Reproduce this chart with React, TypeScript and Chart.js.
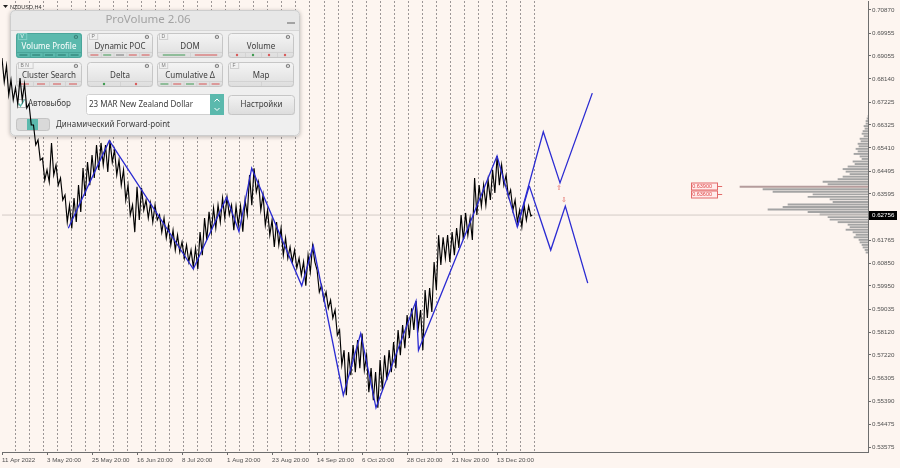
import React, { useEffect, useRef } from 'react';
import { Chart, registerables } from 'chart.js';

Chart.register(...registerables);

// ---------- DATA ----------
const symbolLabel = 'NZDUSD,H4';

// x axis: H4 bar index from 11 Apr 2022
const xMaxBars = 1924;
const xLabelBars = [0, 100, 200, 300, 400, 500, 600, 700, 800, 900, 1000, 1100];
const xLabelTexts = [
  '11 Apr 2022', '3 May 20:00', '25 May 20:00', '16 Jun 20:00', '8 Jul 20:00', '1 Aug 20:00',
  '23 Aug 20:00', '14 Sep 20:00', '6 Oct 20:00', '28 Oct 20:00', '21 Nov 20:00', '13 Dec 20:00',
];
const weekGridStart = 29;
const weekGridStep = 31.2;
const weekGridCount = 38;

// y axis
const yMin = 0.5338;
const yMax = 0.71226;
const yTickValues = [
  0.7087, 0.69955, 0.69055, 0.6814, 0.67225, 0.66325, 0.6541, 0.64495, 0.63595,
  0.61765, 0.6085, 0.5995, 0.59035, 0.5812, 0.5722, 0.56305, 0.5539, 0.54475, 0.53575,
];
const lastPrice = 0.62756;

// price (sampled every 10 H4 bars): highs and lows
const sampleBars = 10;
const priceHigh = [
  0.6897, 0.6866, 0.6810, 0.6779, 0.6818, 0.6794, 0.6715, 0.6632, 0.6573, 0.6501,
  0.6454, 0.6561, 0.6474, 0.6422, 0.6355, 0.6315, 0.6343, 0.6394, 0.6462, 0.6485,
  0.6513, 0.6553, 0.6561, 0.6553, 0.6570, 0.6533, 0.6493, 0.6454, 0.6394, 0.6315,
  0.6387, 0.6383, 0.6335, 0.6323, 0.6315, 0.6276, 0.6264, 0.6236, 0.6216, 0.6196,
  0.6169, 0.6157, 0.6137, 0.6145, 0.6208, 0.6264, 0.6288, 0.6303, 0.6315, 0.6343,
  0.6346, 0.6315, 0.6311, 0.6311, 0.6335, 0.6434, 0.6461, 0.6406, 0.6355, 0.6295,
  0.6256, 0.6248, 0.6224, 0.6185, 0.6149, 0.6137, 0.6105, 0.6090, 0.6117, 0.6154,
  0.6058, 0.5998, 0.5971, 0.5939, 0.5900, 0.5821, 0.5741, 0.5733, 0.5761, 0.5781,
  0.5807, 0.5721, 0.5670, 0.5654, 0.5702, 0.5721, 0.5741, 0.5773, 0.5821, 0.5840,
  0.5880, 0.5907, 0.5935, 0.5900, 0.5979, 0.5987, 0.6090, 0.6196, 0.6188, 0.6196,
  0.6208, 0.6224, 0.6276, 0.6284, 0.6264, 0.6422, 0.6394, 0.6394, 0.6414, 0.6454,
  0.6509, 0.6474, 0.6434, 0.6375, 0.6335, 0.6295, 0.6315, 0.6311,
];
const priceLow = [
  0.6802, 0.6751, 0.6731, 0.6715, 0.6731, 0.6699, 0.6632, 0.6553, 0.6493, 0.6414,
  0.6406, 0.6434, 0.6394, 0.6335, 0.6248, 0.6223, 0.6248, 0.6288, 0.6351, 0.6394,
  0.6422, 0.6454, 0.6474, 0.6446, 0.6485, 0.6434, 0.6394, 0.6335, 0.6276, 0.6208,
  0.6256, 0.6295, 0.6264, 0.6248, 0.6256, 0.6208, 0.6185, 0.6157, 0.6137, 0.6129,
  0.6105, 0.6090, 0.6070, 0.6062, 0.6117, 0.6177, 0.6208, 0.6224, 0.6248, 0.6264,
  0.6276, 0.6216, 0.6236, 0.6210, 0.6276, 0.6315, 0.6367, 0.6295, 0.6236, 0.6196,
  0.6149, 0.6157, 0.6117, 0.6105, 0.6090, 0.6066, 0.6038, 0.5996, 0.6050, 0.6090,
  0.5971, 0.5939, 0.5907, 0.5868, 0.5800, 0.5682, 0.5563, 0.5642, 0.5654, 0.5670,
  0.5662, 0.5575, 0.5543, 0.5513, 0.5583, 0.5622, 0.5654, 0.5670, 0.5721, 0.5749,
  0.5789, 0.5821, 0.5829, 0.5741, 0.5868, 0.5892, 0.5979, 0.6078, 0.6105, 0.6090,
  0.6117, 0.6145, 0.6177, 0.6196, 0.6177, 0.6276, 0.6311, 0.6315, 0.6335, 0.6363,
  0.6394, 0.6394, 0.6347, 0.6295, 0.6248, 0.6229, 0.6256, 0.6272,
];

// ZigZag vertices
const zigzagBars = [147.3, 238.4, 425.0, 499.2, 526.5, 554.8, 665.9, 691.6, 758.3, 796.9, 830.9, 919.8, 925.3, 1099.8, 1144.9, 1171.5];
const zigzagPrices = [0.6223, 0.6570, 0.6062, 0.6346, 0.6210, 0.6461, 0.5996, 0.6154, 0.5563, 0.5807, 0.5513, 0.5935, 0.5741, 0.6509, 0.6229, 0.6391];

// forward-point projections
const forecastDownBars = [1171.5, 1219.1, 1251.5, 1301.3];
const forecastDownPrices = [0.6391, 0.6137, 0.6311, 0.6006];
const forecastUpBars = [1144.9, 1202.6, 1239.7, 1311.5];
const forecastUpPrices = [0.6229, 0.6605, 0.6403, 0.6758];

// small red arrows
const arrowBars = [1237.5, 1248.6];
const arrowPrices = [0.6383, 0.6335];
const arrowGlyphs = ['⇧', '⇩'];

// red price labels
const priceLabelValues = [0.639, 0.636];
const priceLabelBar = 1600;

// volume profile
const profileLevels = [
  0.667, 0.666, 0.665, 0.664, 0.663, 0.662, 0.661, 0.660, 0.659, 0.658,
  0.657, 0.656, 0.655, 0.654, 0.653, 0.652, 0.651, 0.650, 0.649, 0.648,
  0.647, 0.646, 0.645, 0.644, 0.643, 0.642, 0.641, 0.640, 0.639, 0.638,
  0.637, 0.636, 0.635, 0.634, 0.633, 0.632, 0.631, 0.630, 0.629, 0.628,
  0.627, 0.626, 0.625, 0.624, 0.623, 0.622, 0.621, 0.620, 0.619, 0.618,
  0.617, 0.616, 0.615, 0.614, 0.613,
];
const profileVolumes = [
  0, 1, 2, 2, 4, 3, 5, 6, 4, 8,
  7, 10, 9, 12, 10, 14, 8, 6, 15, 13,
  20, 25, 22, 18, 25, 30, 45, 40, 128, 105,
  95, 55, 60, 38, 35, 80, 85, 100, 60, 48,
  40, 38, 30, 20, 18, 22, 15, 12, 14, 9,
  8, 6, 5, 3, 2,
];
const profilePocLevel = 0.639;
const profileAxisMax = 866;

// ---------- STYLE ----------
const BG = '#fdf5f0';
const AXIS_FONT = 'Liberation Sans';
const UI_FONT = 'Noto Sans';
const TEAL = '#5bb9ad';

function rr(ctx: CanvasRenderingContext2D, x: number, y: number, w: number, h: number, r: number) {
  ctx.beginPath();
  ctx.moveTo(x + r, y);
  ctx.lineTo(x + w - r, y);
  ctx.quadraticCurveTo(x + w, y, x + w, y + r);
  ctx.lineTo(x + w, y + h - r);
  ctx.quadraticCurveTo(x + w, y + h, x + w - r, y + h);
  ctx.lineTo(x + r, y + h);
  ctx.quadraticCurveTo(x, y + h, x, y + h - r);
  ctx.lineTo(x, y + r);
  ctx.quadraticCurveTo(x, y, x + r, y);
  ctx.closePath();
}

type Strip = { kind: 'dash' | 'dot' | 'long'; colors: string[] };
type Btn = { tag: string; text: string; active?: boolean; gear: boolean; strip: Strip | null };

const panelButtons: Btn[] = [
  { tag: 'V', text: 'Volume Profile', active: true, gear: true, strip: { kind: 'dash', colors: ['#2f8076', '#2f8076', '#2f8076', '#2f8076', '#2f8076'] } },
  { tag: 'P', text: 'Dynamic POC', gear: true, strip: { kind: 'dash', colors: ['#d86a6a', '#5aa56a', '#8a8a8a', '#d86a6a', '#d86a6a'] } },
  { tag: 'D', text: 'DOM', gear: true, strip: { kind: 'long', colors: ['#5aa56a', '#d86a6a'] } },
  { tag: '', text: 'Volume', gear: true, strip: { kind: 'dot', colors: ['#d85a5a', '#3f9a4f', '#d85a5a', '#d85a5a'] } },
  { tag: 'B N', text: 'Cluster Search', gear: true, strip: { kind: 'dash', colors: ['#d86a6a', '#d86a6a', '#d86a6a', '#d86a6a'] } },
  { tag: '', text: 'Delta', gear: true, strip: { kind: 'dot', colors: ['#3f9a4f', '#d85a5a'] } },
  { tag: 'M', text: 'Cumulative Δ', gear: true, strip: { kind: 'dash', colors: ['#5aa56a', '#d86a6a', '#5aa56a', '#d86a6a', '#d86a6a'] } },
  { tag: 'F', text: 'Map', gear: true, strip: null },
];

function drawButton(ctx: CanvasRenderingContext2D, x: number, y: number, w: number, h: number, b: Btn) {
  ctx.save();
  if (b.active) {
    ctx.fillStyle = TEAL;
  } else {
    const g = ctx.createLinearGradient(0, y, 0, y + h);
    g.addColorStop(0, '#f5f5f5');
    g.addColorStop(1, '#dddddd');
    ctx.fillStyle = g;
  }
  rr(ctx, x, y, w, h, 3);
  ctx.fill();
  ctx.strokeStyle = b.active ? '#4aa59a' : '#c6c6c6';
  ctx.lineWidth = 1;
  rr(ctx, x + 0.5, y + 0.5, w - 1, h - 1, 3);
  ctx.stroke();
  if (b.tag) {
    ctx.strokeStyle = b.active ? '#7fcfc5' : '#cfcfcf';
    const tw = b.tag.length * 3.2 + 5;
    ctx.strokeRect(x + 2.5, y + 0.5, tw, 6);
    ctx.fillStyle = b.active ? '#e8f7f5' : '#7a7a7a';
    ctx.font = `5px ${AXIS_FONT}`;
    ctx.textBaseline = 'middle';
    ctx.textAlign = 'left';
    ctx.fillText(b.tag, x + 4.5, y + 4);
  }
  if (b.gear) {
    ctx.fillStyle = b.active ? '#2f6f68' : '#5a5a5a';
    ctx.font = `6px "DejaVu Sans"`;
    ctx.textAlign = 'center';
    ctx.textBaseline = 'middle';
    ctx.fillText('⚙', x + w - 6, y + 4);
  }
  ctx.fillStyle = b.active ? '#ffffff' : '#3c3c3c';
  ctx.font = `8px "${UI_FONT}"`;
  ctx.textAlign = 'center';
  ctx.textBaseline = 'middle';
  ctx.fillText(b.text, x + w / 2, y + 13.5);
  const sy = y + h - 6;
  ctx.strokeStyle = b.active ? '#4aa59a' : '#d3d3d3';
  ctx.beginPath();
  ctx.moveTo(x + 1, sy + 0.5);
  ctx.lineTo(x + w - 1, sy + 0.5);
  ctx.stroke();
  const n = b.strip ? b.strip.colors.length : 2;
  const segW = (w - 2) / n;
  for (let i = 1; i < n; i++) {
    ctx.beginPath();
    ctx.moveTo(x + 1 + segW * i + 0.5, sy);
    ctx.lineTo(x + 1 + segW * i + 0.5, y + h - 1);
    ctx.stroke();
  }
  if (b.strip) {
    b.strip.colors.forEach((c, i) => {
      const cx = x + 1 + segW * (i + 0.5);
      const cy = sy + 3;
      if (b.strip!.kind === 'dot') {
        ctx.fillStyle = c;
        ctx.beginPath();
        ctx.arc(cx, cy, 1.2, 0, Math.PI * 2);
        ctx.fill();
      } else {
        ctx.strokeStyle = c;
        ctx.lineWidth = 1.2;
        const half = b.strip!.kind === 'long' ? segW * 0.35 : Math.min(4, segW * 0.35);
        ctx.beginPath();
        ctx.moveTo(cx - half, cy);
        ctx.lineTo(cx + half, cy);
        ctx.stroke();
        ctx.lineWidth = 1;
      }
    });
  }
  ctx.restore();
}

function drawPanel(ctx: CanvasRenderingContext2D) {
  const px = 10, py = 10, pw = 290, ph = 126;
  ctx.save();
  ctx.shadowColor = 'rgba(0,0,0,0.28)';
  ctx.shadowBlur = 4;
  ctx.shadowOffsetY = 1;
  rr(ctx, px, py, pw, ph, 5);
  ctx.fillStyle = '#efefef';
  ctx.fill();
  ctx.restore();

  ctx.save();
  rr(ctx, px, py, pw, ph, 5);
  ctx.clip();
  ctx.fillStyle = '#e7e7e7';
  ctx.fillRect(px, py, pw, 20);
  ctx.strokeStyle = '#d6d6d6';
  ctx.beginPath();
  ctx.moveTo(px, py + 20.5);
  ctx.lineTo(px + pw, py + 20.5);
  ctx.stroke();
  ctx.restore();

  ctx.save();
  ctx.strokeStyle = '#cdcdcd';
  rr(ctx, px + 0.5, py + 0.5, pw - 1, ph - 1, 5);
  ctx.stroke();

  ctx.fillStyle = '#a3a3a3';
  ctx.font = `11.5px "${UI_FONT}"`;
  ctx.textAlign = 'center';
  ctx.textBaseline = 'middle';
  ctx.fillText('ProVolume 2.06', 148, 19.5);
  ctx.strokeStyle = '#8c8c8c';
  ctx.lineWidth = 1.5;
  ctx.beginPath();
  ctx.moveTo(287, 23);
  ctx.lineTo(295, 23);
  ctx.stroke();
  ctx.lineWidth = 1;

  const cols = [16, 87, 157, 228];
  const rows = [33, 62];
  panelButtons.forEach((b, i) => {
    drawButton(ctx, cols[i % 4], rows[Math.floor(i / 4)], 66, 25, b);
  });

  ctx.fillStyle = '#ffffff';
  ctx.fillRect(17, 99, 8, 8);
  ctx.strokeStyle = '#b8b8b8';
  ctx.strokeRect(17.5, 99.5, 8, 8);
  ctx.strokeStyle = TEAL;
  ctx.lineWidth = 1.4;
  ctx.beginPath();
  ctx.moveTo(18.5, 103.5);
  ctx.lineTo(20.5, 106);
  ctx.lineTo(24.5, 99.5);
  ctx.stroke();
  ctx.lineWidth = 1;
  ctx.fillStyle = '#3c3c3c';
  ctx.font = `8px "${UI_FONT}"`;
  ctx.textAlign = 'left';
  ctx.fillText('Автовыбор', 28, 104);

  ctx.fillStyle = '#ffffff';
  rr(ctx, 86, 94, 138, 21, 2);
  ctx.fill();
  ctx.strokeStyle = '#d0d0d0';
  rr(ctx, 86.5, 94.5, 137, 20, 2);
  ctx.stroke();
  ctx.fillStyle = '#3c3c3c';
  ctx.fillText('23 MAR New Zealand Dollar', 89, 105);
  ctx.fillStyle = TEAL;
  ctx.fillRect(210, 94, 14, 21);
  ctx.strokeStyle = '#ffffff';
  ctx.lineWidth = 1;
  ctx.beginPath();
  ctx.moveTo(214.5, 101.5); ctx.lineTo(217, 99); ctx.lineTo(219.5, 101.5);
  ctx.moveTo(214.5, 108); ctx.lineTo(217, 110.5); ctx.lineTo(219.5, 108);
  ctx.stroke();

  const g = ctx.createLinearGradient(0, 95, 0, 115);
  g.addColorStop(0, '#f3f3f3');
  g.addColorStop(1, '#dcdcdc');
  ctx.fillStyle = g;
  rr(ctx, 228, 95, 67, 20, 3);
  ctx.fill();
  ctx.strokeStyle = '#c6c6c6';
  rr(ctx, 228.5, 95.5, 66, 19, 3);
  ctx.stroke();
  ctx.fillStyle = '#3c3c3c';
  ctx.textAlign = 'center';
  ctx.fillText('Настройки', 261.5, 105);

  ctx.fillStyle = '#d9d9d9';
  rr(ctx, 16, 118, 34, 13, 3);
  ctx.fill();
  ctx.strokeStyle = '#c4c4c4';
  rr(ctx, 16.5, 118.5, 33, 12, 3);
  ctx.stroke();
  ctx.fillStyle = TEAL;
  ctx.fillRect(27, 119, 11, 11);
  ctx.fillStyle = '#3c3c3c';
  ctx.textAlign = 'left';
  ctx.fillText('Динамический Forward-point', 56, 125);
  ctx.restore();
}

const labelSet = new Set(xLabelBars);

export default function App() {
  const ref = useRef<HTMLCanvasElement>(null);

  useEffect(() => {
    document.body.style.margin = '0';
    const canvas = ref.current;
    if (!canvas) return;

    const pricePoints: { x: number; y: number }[] = [];
    priceHigh.forEach((h, i) => {
      pricePoints.push({ x: i * sampleBars, y: h });
      pricePoints.push({ x: i * sampleBars + sampleBars / 2, y: priceLow[i] });
    });
    pricePoints.push({ x: (priceHigh.length - 1) * sampleBars + 8, y: lastPrice });

    const zigzag = zigzagBars.map((b, i) => ({ x: b, y: zigzagPrices[i] }));
    const fDown = forecastDownBars.map((b, i) => ({ x: b, y: forecastDownPrices[i] }));
    const fUp = forecastUpBars.map((b, i) => ({ x: b, y: forecastUpPrices[i] }));
    const profile = profileLevels.map((p, i) => ({ x: profileVolumes[i], y: p }));

    const weekTicks: number[] = [];
    for (let i = 0; i < weekGridCount; i++) weekTicks.push(weekGridStart + i * weekGridStep);

    const decor = {
      id: 'mt4decor',
      beforeDraw(chart: any) {
        const ctx = chart.ctx as CanvasRenderingContext2D;
        ctx.save();
        ctx.fillStyle = BG;
        ctx.fillRect(0, 0, chart.width, chart.height);
        ctx.restore();
      },
      beforeDatasetsDraw(chart: any) {
        drawPanel(chart.ctx);
      },
      afterDatasetsDraw(chart: any) {
        const ctx = chart.ctx as CanvasRenderingContext2D;
        const xs = chart.scales.x;
        const ys = chart.scales.y;
        ctx.save();
        ctx.fillStyle = '#e0605a';
        ctx.font = `7px "DejaVu Sans"`;
        ctx.textAlign = 'center';
        ctx.textBaseline = 'middle';
        arrowBars.forEach((b, i) => {
          ctx.fillText(arrowGlyphs[i], xs.getPixelForValue(b), ys.getPixelForValue(arrowPrices[i]));
        });
        ctx.font = `5.5px ${AXIS_FONT}`;
        ctx.textAlign = 'left';
        priceLabelValues.forEach((v) => {
          const ax = xs.getPixelForValue(priceLabelBar);
          const ay = Math.round(ys.getPixelForValue(v)) + 0.5;
          const bw = 26, bh = 7;
          ctx.fillStyle = 'rgba(255,235,235,0.9)';
          ctx.fillRect(ax - 5 - bw, ay - bh / 2, bw, bh);
          ctx.strokeStyle = '#e36a6a';
          ctx.lineWidth = 1;
          ctx.strokeRect(Math.round(ax - 5 - bw) + 0.5, ay - bh / 2, bw, bh);
          ctx.beginPath();
          ctx.moveTo(ax - 5, ay);
          ctx.lineTo(ax, ay);
          ctx.stroke();
          ctx.fillStyle = '#e04848';
          ctx.fillText(v.toFixed(5), ax - 4 - bw, ay + 0.3);
        });
        ctx.restore();
      },
      afterDraw(chart: any) {
        const ctx = chart.ctx as CanvasRenderingContext2D;
        const ys = chart.scales.y;
        const area = chart.chartArea;
        ctx.save();
        const py = Math.round(ys.getPixelForValue(lastPrice));
        ctx.fillStyle = '#000000';
        ctx.fillRect(area.right + 1, py - 4, 28, 9);
        ctx.fillStyle = '#ffffff';
        ctx.font = `6.2px ${AXIS_FONT}`;
        ctx.textAlign = 'left';
        ctx.textBaseline = 'middle';
        ctx.fillText(lastPrice.toFixed(5), area.right + 4, py + 0.5);
        ctx.fillStyle = '#202020';
        ctx.beginPath();
        ctx.moveTo(3, 5);
        ctx.lineTo(8, 5);
        ctx.lineTo(5.5, 8);
        ctx.closePath();
        ctx.fill();
        ctx.font = `5.5px ${AXIS_FONT}`;
        ctx.fillStyle = '#303030';
        ctx.fillText(symbolLabel, 10, 7);
        ctx.restore();
      },
    };

    const chart = new Chart(canvas, {
      type: 'line',
      data: {
        datasets: [
          { type: 'line', label: 'zigzag', data: zigzag, borderColor: '#2b2bd2', borderWidth: 1.3, pointRadius: 0, order: 1, xAxisID: 'x', yAxisID: 'y' },
          { type: 'line', label: 'forecast down', data: fDown, borderColor: '#2b2bd2', borderWidth: 1.3, pointRadius: 0, order: 1, xAxisID: 'x', yAxisID: 'y' },
          { type: 'line', label: 'forecast up', data: fUp, borderColor: '#2b2bd2', borderWidth: 1.3, pointRadius: 0, order: 1, xAxisID: 'x', yAxisID: 'y' },
          { type: 'line', label: 'NZDUSD', data: pricePoints, borderColor: '#000000', borderWidth: 1.15, pointRadius: 0, order: 2, xAxisID: 'x', yAxisID: 'y' },
          {
            type: 'line', label: 'last',
            data: [{ x: 0, y: lastPrice }, { x: xMaxBars, y: lastPrice }],
            borderColor: '#d3cbc6', borderWidth: 1, pointRadius: 0, order: 4, xAxisID: 'x', yAxisID: 'y',
          },
          {
            type: 'bar',
            label: 'profile',
            data: profile as any,
            indexAxis: 'y',
            xAxisID: 'xv',
            yAxisID: 'y',
            backgroundColor: profileLevels.map((p) => (p === profilePocLevel ? '#b59c9c' : '#a4a4a4')),
            borderWidth: 0,
            barPercentage: 1,
            categoryPercentage: 1,
            order: 5,
          } as any,
        ],
      },
      options: {
        responsive: false,
        animation: false,
        devicePixelRatio: 1,
        parsing: false as any,
        normalized: true,
        layout: { padding: { left: 2, top: 1, right: 0, bottom: 0 } },
        plugins: { legend: { display: false }, tooltip: { enabled: false } },
        events: [],
        scales: {
          x: {
            type: 'linear',
            position: 'bottom',
            min: 0,
            max: xMaxBars,
            offset: false,
            afterBuildTicks: (scale: any) => {
              const vals = [...xLabelBars, ...weekTicks].sort((a, b) => a - b);
              scale.ticks = vals.map((v) => ({ value: v }));
            },
            afterFit: (scale: any) => {
              scale.height = 16;
              scale.paddingLeft = 0;
              scale.paddingRight = 0;
            },
            ticks: {
              autoSkip: false, maxRotation: 0, minRotation: 0, align: 'start', padding: 2,
              color: '#505050',
              font: { family: AXIS_FONT, size: 6.2 },
              callback: (v: any) => {
                const idx = xLabelBars.indexOf(Number(v));
                return idx >= 0 ? xLabelTexts[idx] : '';
              },
            },
            grid: {
              display: true, drawOnChartArea: true, drawTicks: true, tickLength: 3, lineWidth: 1, offset: false,
              color: (ctx: any) => (ctx.tick && labelSet.has(ctx.tick.value) ? 'rgba(0,0,0,0)' : '#9c9696'),
              tickColor: (ctx: any) => (ctx.tick && labelSet.has(ctx.tick.value) ? '#6a6a6a' : 'rgba(0,0,0,0)'),
            },
            border: { display: true, color: '#6e6e6e', width: 1, dash: [2, 2] },
          } as any,
          xv: {
            type: 'linear', axis: 'x', position: 'bottom', display: false, reverse: true,
            min: 0, max: profileAxisMax, offset: false,
          } as any,
          y: {
            type: 'linear',
            position: 'right',
            min: yMin,
            max: yMax,
            offset: false,
            bounds: 'data',
            afterBuildTicks: (scale: any) => {
              scale.ticks = yTickValues.map((v) => ({ value: v }));
            },
            afterFit: (scale: any) => {
              scale.width = 32;
              scale.paddingTop = 0;
              scale.paddingBottom = 0;
            },
            ticks: {
              autoSkip: false, padding: 1, color: '#505050',
              font: { family: AXIS_FONT, size: 6.2 },
              callback: (v: any) => Number(v).toFixed(5),
            },
            grid: { display: true, drawOnChartArea: false, drawTicks: true, tickLength: 3, color: '#6e6e6e', offset: false },
            border: { display: true, color: '#6e6e6e', width: 1 },
          } as any,
        },
      },
      plugins: [decor],
    });

    return () => chart.destroy();
  }, []);

  return (
    <div style={{ position: 'absolute', left: 0, top: 0, width: 900, height: 468, background: BG }}>
      <canvas ref={ref} width={900} height={468} style={{ display: 'block', width: 900, height: 468 }} />
    </div>
  );
}
